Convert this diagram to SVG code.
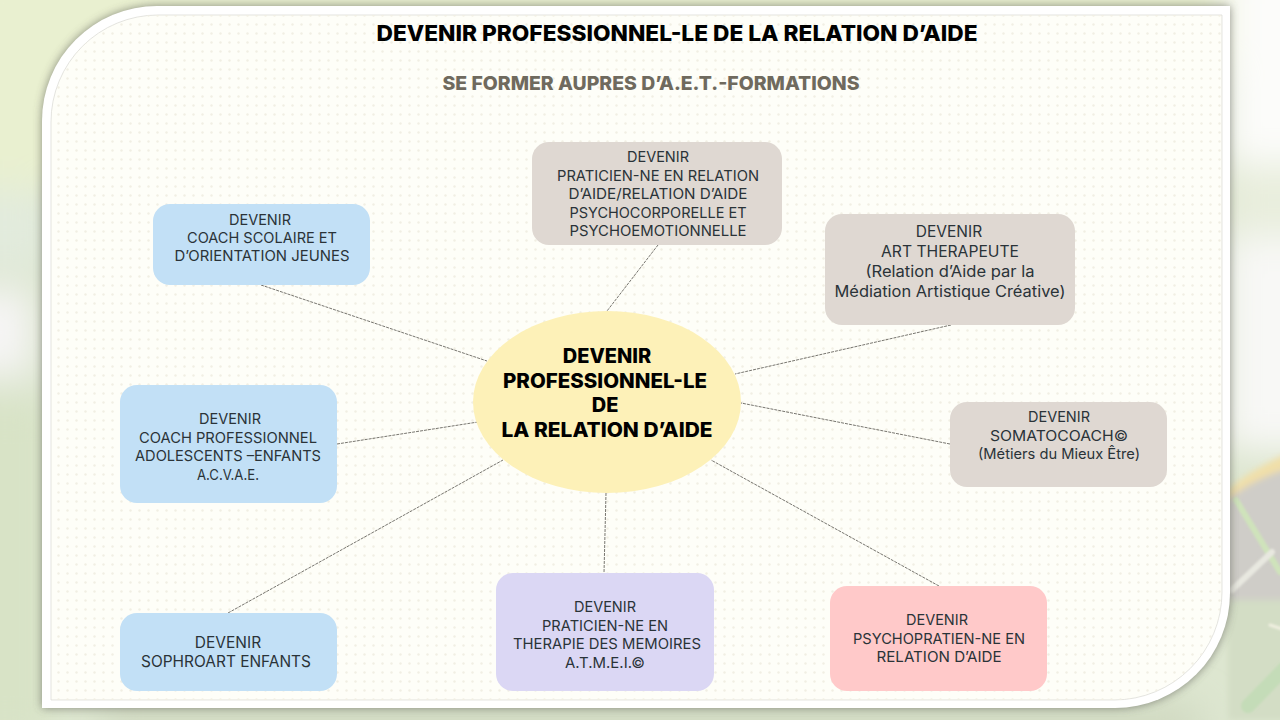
<svg xmlns="http://www.w3.org/2000/svg" width="1280" height="720" viewBox="0 0 1280 720">
<style>
text{font-family:Inter,"Noto Sans","Liberation Sans",sans-serif;text-anchor:middle;fill:#2a3338;font-size:14.5px}
.big{font-size:15.5px}
.c{font-size:20px;font-weight:800;fill:#000}
.t{font-size:22px;font-weight:800;fill:#000}
.s{font-size:19px;font-weight:800;fill:#6f6a5e}
.con{stroke:#55534c;stroke-width:.8;stroke-dasharray:3 1;fill:none}
.blue{fill:#c2e0f6}.tan{fill:#dfd8d2}.lil{fill:#dbd7f4}.pink{fill:#ffc9c9}.yel{fill:#fdf1b8}
</style>
<defs>
<filter id="b" x="-30%" y="-30%" width="160%" height="160%"><feGaussianBlur stdDeviation="18"/></filter>
<filter id="b2" x="-30%" y="-30%" width="160%" height="160%"><feGaussianBlur stdDeviation="3"/></filter>
<filter id="b3" x="-30%" y="-30%" width="160%" height="160%"><feGaussianBlur stdDeviation="1.2"/></filter>
<filter id="sh" x="-5%" y="-5%" width="110%" height="110%"><feGaussianBlur stdDeviation="5"/></filter>
<pattern id="dots" width="9" height="9" patternUnits="userSpaceOnUse" x="0" y="2"><circle cx="4.5" cy="4.5" r="1.2" fill="#f1efe4"/></pattern>
<clipPath id="bg"><rect width="1280" height="720"/></clipPath>
</defs>
<g id="background" clip-path="url(#bg)">
<rect width="1280" height="720" fill="#dde6d0"/>
<g filter="url(#b)">
<rect x="-40" y="-40" width="1400" height="110" fill="#e8efcf"/>
<rect x="-40" y="-40" width="200" height="230" fill="#e9f0d0"/>
<rect x="-40" y="190" width="90" height="80" fill="#e2ebdd"/>
<rect x="-40" y="290" width="72" height="85" fill="#f6f5f5"/>
<rect x="-40" y="400" width="90" height="340" fill="#d8e3c6"/>
<rect x="1225" y="-40" width="100" height="205" fill="#fcfcfa"/>
<rect x="1225" y="170" width="100" height="60" fill="#e9eedd"/>
<rect x="1225" y="235" width="100" height="215" fill="#f8f8f6"/>
<rect x="100" y="705" width="1100" height="40" fill="#cfd8c0"/>
</g>
<g filter="url(#b2)">
<path d="M1228 490Q1250 470 1290 452V600H1228Z" fill="#f1dfa8"/>
<path d="M1228 500Q1250 480 1290 468V620H1228Z" fill="#cfcdc8"/>
<path d="M1228 600H1290V720H1228Z" fill="#d3ddc5"/>
</g>
<g filter="url(#b3)" fill="none" stroke-linecap="round">
<path d="M1236 500L1280 572" stroke="#cfe3bb" stroke-width="6"/>
<path d="M1232 590L1272 552" stroke="#e8e8e0" stroke-width="6"/>
<path d="M1248 706L1285 668" stroke="#c4dcb8" stroke-width="14"/>
<path d="M1270 625L1285 630" stroke="#f0efe0" stroke-width="3"/>
</g>
</g>
<g id="panel">
<path d="M157 6H1230V593A115 115 0 0 1 1115 708H42V121A115 115 0 0 1 157 6Z" fill="#4a4a44" opacity=".6" filter="url(#sh)"/>
<path d="M157 6H1230V593A115 115 0 0 1 1115 708H42V121A115 115 0 0 1 157 6Z" fill="#fff"/>
<path id="inner" d="M158 15H1222V592A108 108 0 0 1 1114 700H51V122A107 107 0 0 1 158 15Z" fill="#fefef8" stroke="#d8d8d2" stroke-width=".7"/>
<path d="M158 15H1222V592A108 108 0 0 1 1114 700H51V122A107 107 0 0 1 158 15Z" fill="url(#dots)"/>
</g>
<text class="t" x="677" y="41" textLength="601" lengthAdjust="spacingAndGlyphs">DEVENIR PROFESSIONNEL-LE DE LA RELATION D’AIDE</text>
<text class="s" x="651" y="90" textLength="417" lengthAdjust="spacingAndGlyphs">SE FORMER AUPRES D’A.E.T.-FORMATIONS</text>
<g id="connectors">
<path class="con" d="M658 245L607 311"/>
<path class="con" d="M951 325L735 374"/>
<path class="con" d="M950 444L741 403"/>
<path class="con" d="M939 586L711 460"/>
<path class="con" d="M606 493L604 573"/>
<path class="con" d="M228 613L503 460"/>
<path class="con" d="M337 444L478 422"/>
<path class="con" d="M261 285L487 361"/>
</g>
<g id="center"><ellipse class="yel" cx="607" cy="402" rx="134" ry="91"/>
<text class="c" x="607" y="363">DEVENIR</text><text class="c" x="605" y="388" textLength="204" lengthAdjust="spacingAndGlyphs">PROFESSIONNEL-LE</text><text class="c" x="605" y="412">DE</text><text class="c" x="607" y="437" textLength="211" lengthAdjust="spacingAndGlyphs">LA RELATION D’AIDE</text></g>
<g id="n-praticien"><rect class="tan" x="532" y="142" width="250" height="103" rx="17"/>
<text x="658" y="162">DEVENIR</text><text x="658" y="181" textLength="202" lengthAdjust="spacingAndGlyphs">PRATICIEN-NE EN RELATION</text><text x="658" y="199" textLength="179" lengthAdjust="spacingAndGlyphs">D’AIDE/RELATION D’AIDE</text><text x="658" y="218" textLength="177" lengthAdjust="spacingAndGlyphs">PSYCHOCORPORELLE ET</text><text x="658" y="236" textLength="177" lengthAdjust="spacingAndGlyphs">PSYCHOEMOTIONNELLE</text></g>
<g id="n-art"><rect class="tan" x="825" y="214" width="250" height="111" rx="17"/>
<text class="big" x="949" y="237">DEVENIR</text><text class="big" x="950" y="257" textLength="138" lengthAdjust="spacingAndGlyphs">ART THERAPEUTE</text><text class="big" x="950" y="277" textLength="169" lengthAdjust="spacingAndGlyphs">(Relation d’Aide par la</text><text class="big" x="950" y="297" textLength="231" lengthAdjust="spacingAndGlyphs">Médiation Artistique Créative)</text></g>
<g id="n-somato"><rect class="tan" x="950" y="402" width="217" height="85" rx="17"/>
<text x="1059" y="422">DEVENIR</text><text x="1059" y="441" textLength="138" lengthAdjust="spacingAndGlyphs">SOMATOCOACH©</text><text x="1059" y="459" textLength="162" lengthAdjust="spacingAndGlyphs">(Métiers du Mieux Être)</text></g>
<g id="n-psycho"><rect class="pink" x="830" y="586" width="217" height="105" rx="17"/>
<text x="937" y="625">DEVENIR</text><text x="939" y="644" textLength="172" lengthAdjust="spacingAndGlyphs">PSYCHOPRATIEN-NE EN</text><text x="939" y="662" textLength="125" lengthAdjust="spacingAndGlyphs">RELATION D’AIDE</text></g>
<g id="n-memoires"><rect class="lil" x="496" y="573" width="218" height="118" rx="17"/>
<text x="605" y="612">DEVENIR</text><text x="605" y="631" textLength="126" lengthAdjust="spacingAndGlyphs">PRATICIEN-NE EN</text><text x="607" y="649" textLength="188" lengthAdjust="spacingAndGlyphs">THERAPIE DES MEMOIRES</text><text x="605" y="668" textLength="80" lengthAdjust="spacingAndGlyphs">A.T.M.E.I.©</text></g>
<g id="n-sophro"><rect class="blue" x="120" y="613" width="217" height="78" rx="17"/>
<text class="big" x="228" y="648">DEVENIR</text><text class="big" x="226" y="667" textLength="170" lengthAdjust="spacingAndGlyphs">SOPHROART ENFANTS</text></g>
<g id="n-coachpro"><rect class="blue" x="120" y="385" width="217" height="118" rx="17"/>
<text x="230" y="424">DEVENIR</text><text x="228" y="443" textLength="178" lengthAdjust="spacingAndGlyphs">COACH PROFESSIONNEL</text><text x="228" y="461" textLength="186" lengthAdjust="spacingAndGlyphs">ADOLESCENTS –ENFANTS</text><text x="228" y="480" textLength="62" lengthAdjust="spacingAndGlyphs">A.C.V.A.E.</text></g>
<g id="n-coachsco"><rect class="blue" x="153" y="204" width="217" height="81" rx="17"/>
<text x="260" y="225">DEVENIR</text><text x="262" y="243" textLength="150" lengthAdjust="spacingAndGlyphs">COACH SCOLAIRE ET</text><text x="262" y="261" textLength="175" lengthAdjust="spacingAndGlyphs">D’ORIENTATION JEUNES</text></g>
</svg>
